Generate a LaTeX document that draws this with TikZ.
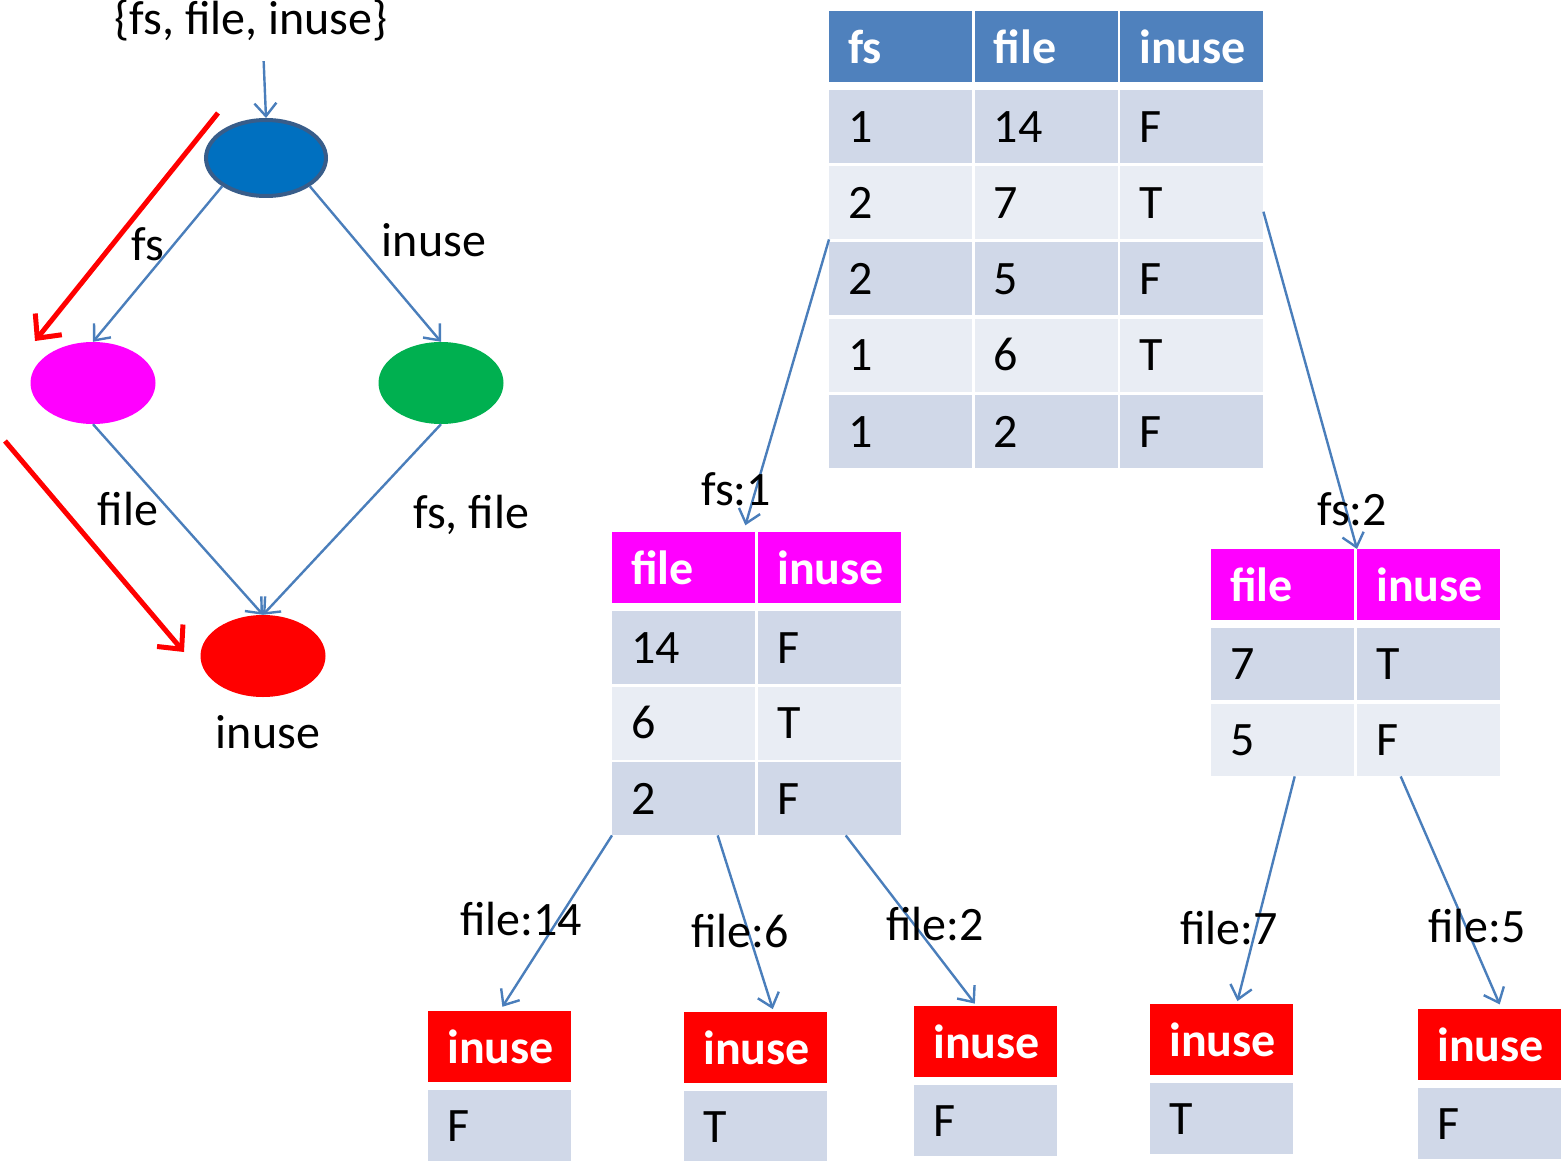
\documentclass[tikz,border=0pt]{standalone}
\usepackage{fontspec}
\setmainfont{Carlito}
\usetikzlibrary{arrows.meta,shapes.geometric}

\definecolor{headblue}{HTML}{4F81BD}
\definecolor{rowdark}{HTML}{D0D8E8}
\definecolor{rowlight}{HTML}{E9EDF4}
\definecolor{linkblue}{HTML}{4A7EBB}
\definecolor{rootblue}{HTML}{0070C0}
\definecolor{rootedge}{HTML}{385D8A}
\definecolor{keymagenta}{HTML}{FF00FF}
\definecolor{keygreen}{HTML}{00B050}
\definecolor{keyred}{HTML}{FF0000}

\tikzset{
  cell/.style={anchor=north west, minimum width=143pt, minimum height=73pt,
    text width=105pt, inner xsep=19pt, inner ysep=0pt, align=left,
    text height=31pt, text depth=0pt},
  headcell/.style={cell, minimum height=71pt, text height=34pt, text=white,
    font=\fontsize{48}{58}\selectfont\bfseries},
  key/.style={ellipse, minimum width=125pt, minimum height=82pt, inner sep=0pt},
  link/.style={linkblue, line width=2.4pt, -{Straight Barb[length=13pt,width=22pt]}},
  hint/.style={keyred, line width=5pt, -{Straight Barb[length=18pt,width=34pt]}},
}

\begin{document}
\begin{tikzpicture}[x=1pt, y=-1pt, every node/.style={font=\fontsize{48}{58}\selectfont}]
  \useasboundingbox (0,0) rectangle (1561,1161);

  % key lattice
  \node[anchor=base] (keys) at (251,35) {\{fs, file, inuse\}};
  \node[key, fill=rootblue, draw=rootedge, line width=4pt, minimum width=120pt, minimum height=76pt] (kall) at (266,158) {};
  \node[key, fill=keymagenta] (kfs) at (93,383) {};
  \node[key, fill=keygreen] (kinuse) at (441,383) {};
  \node[key, fill=keyred] (kend) at (263,656) {};
  \node[anchor=base] (lend) at (268,748) {inuse};

  \draw[link, shorten <=16pt] ([xshift=12pt]keys.south) -- (kall.north);
  \draw[link] (kall.south west) -- (kfs.north);
  \draw[link] (kall.south east) -- (kinuse.north);
  \draw[link] (kfs.south) -- (kend.north);
  \draw[link] (kinuse.south) -- (kend.north);

  \node[anchor=base] (efs) at (148,260) {fs};
  \node[anchor=base] (einuse) at (434,257) {inuse};
  \node[anchor=base] (efile) at (128,525) {file};
  \node[anchor=base] (efsfile) at (471,528) {fs, file};

  % the order we split in
  \coordinate (hinta) at (218,113);
  \coordinate (hintb) at (35,341);
  \coordinate (hintc) at (5,441);
  \coordinate (hintd) at (184,652);
  \draw[hint] (hinta) -- (hintb);
  \draw[hint] (hintc) -- (hintd);

  % full table
  \foreach \c/\x/\name in {1/829/fs, 2/974.5/file, 3/1120/inuse}
    \node[headcell, fill=headblue] (th\c) at (\x,11) {\name};
  \foreach \r/\y/\shade/\a/\b/\v in {1/90/rowdark/1/14/F, 2/166/rowlight/2/7/T,
      3/242/rowdark/2/5/F, 4/318.5/rowlight/1/6/T, 5/395/rowdark/1/2/F}{
    \node[cell, fill=\shade] (t\r1) at (829,\y) {\a};
    \node[cell, fill=\shade] (t\r2) at (974.5,\y) {\b};
    \node[cell, fill=\shade] (t\r3) at (1120,\y) {\v};
  }

  % fs = 1
  \node[headcell, fill=keymagenta] (mh1) at (612,532) {file};
  \node[headcell, fill=keymagenta] (mh2) at (758,532) {inuse};
  \foreach \r/\y/\shade/\b/\v in {1/611/rowdark/14/F, 2/686.5/rowlight/6/T, 3/762/rowdark/2/F}{
    \node[cell, fill=\shade] (m\r1) at (612,\y) {\b};
    \node[cell, fill=\shade] (m\r2) at (758,\y) {\v};
  }

  % fs = 2
  \node[headcell, fill=keymagenta] (rh1) at (1211,549) {file};
  \node[headcell, fill=keymagenta] (rh2) at (1357,549) {inuse};
  \foreach \r/\y/\shade/\b/\v in {1/628/rowdark/7/T, 2/704/rowlight/5/F}{
    \node[cell, fill=\shade, minimum height=72pt] (r\r1) at (1211,\y) {\b};
    \node[cell, fill=\shade, minimum height=72pt] (r\r2) at (1357,\y) {\v};
  }

  % one row per file
  \foreach \i/\x/\y/\v in {1/428/1011/F, 2/684/1012/T, 3/914/1006/F, 4/1150/1004/T, 5/1418/1009/F}{
    \node[headcell, fill=keyred] (bh\i) at (\x,\y) {inuse};
    \node[cell, fill=rowdark, minimum height=71pt] (bv\i) at (\x,\y+79) {\v};
  }

  % splits
  \draw[link, shorten >=7pt] (t21.south west) -- ([xshift=-12pt]mh1.north east);
  \draw[link] ([yshift=-9pt]t23.east) -- (rh2.north west);
  \node[anchor=base] (lfs1) at (736,505) {fs:1};
  \node[anchor=base] (lfs2) at (1352,525) {fs:2};

  \draw[link, shorten >=5pt] (m31.south west) -- (bh1.north);
  \draw[link, shorten >=3pt] ([xshift=34pt]m31.south) -- ([xshift=18pt]bh2.north);
  \draw[link, shorten >=3pt] ([xshift=16pt]m32.south) -- ([xshift=-9pt]bh3.north);
  \draw[link, shorten >=3pt] ([xshift=12pt]r21.south) -- ([xshift=15pt]bh4.north);
  \draw[link, shorten >=5pt] ([xshift=-28pt]r22.south) -- ([xshift=12pt]bh5.north);

  \node[anchor=base] (lf14) at (521,935) {file:14};
  \node[anchor=base] (lf6) at (740,947) {file:6};
  \node[anchor=base] (lf2) at (935,940) {file:2};
  \node[anchor=base] (lf7) at (1229,944) {file:7};
  \node[anchor=base] (lf5) at (1477,942) {file:5};
\end{tikzpicture}
\end{document}
